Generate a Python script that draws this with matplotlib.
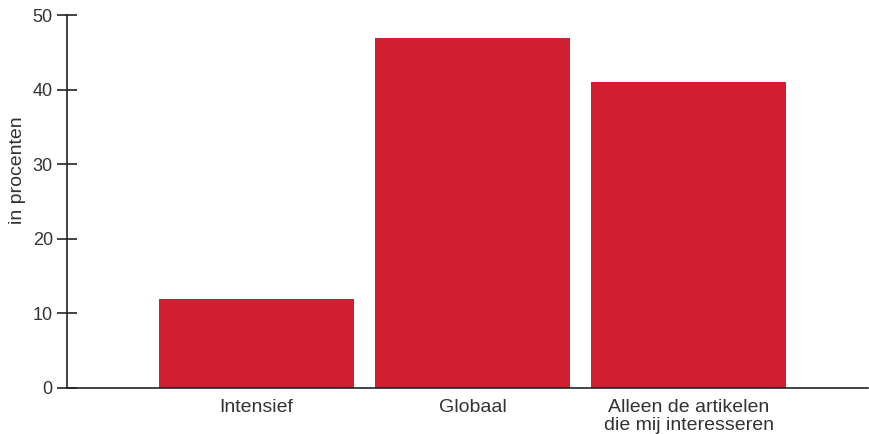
import matplotlib.pyplot as plt
import numpy as np

plt.rcParams['font.family'] = ['Liberation Sans', 'DejaVu Sans']

categorieen = ['Intensief', 'Globaal', 'Alleen de artikelen\ndie mij interesseren']
percentages = [12, 47, 41]

fig = plt.figure(figsize=(8.7, 4.34), dpi=100)
ax = fig.add_axes([0.077, 0.106, 0.921, 0.859])

x = np.arange(len(categorieen))
ax.bar(x, percentages, width=0.9, color='#D11F31')

ax.set_xlim(-0.875, 2.83)
ax.set_ylim(0, 50)
ax.set_yticks([0, 10, 20, 30, 40, 50])
ax.set_xticks(x)
ax.set_xticklabels(categorieen, fontsize=14, color='#333333', linespacing=1.08)
ax.set_ylabel('in procenten', fontsize=14, color='#333333')
ax.yaxis.set_label_coords(-0.051, 0.584)

for s in ['top', 'right']:
    ax.spines[s].set_visible(False)
for s in ['left', 'bottom']:
    ax.spines[s].set_color('#222222')
    ax.spines[s].set_linewidth(1.2)

ax.tick_params(axis='y', direction='inout', length=14.4, width=1.2, color='#222222',
               labelsize=13, labelcolor='#333333', pad=3)
ax.tick_params(axis='x', length=0, pad=8)

fig.savefig('out.png', dpi=100)
